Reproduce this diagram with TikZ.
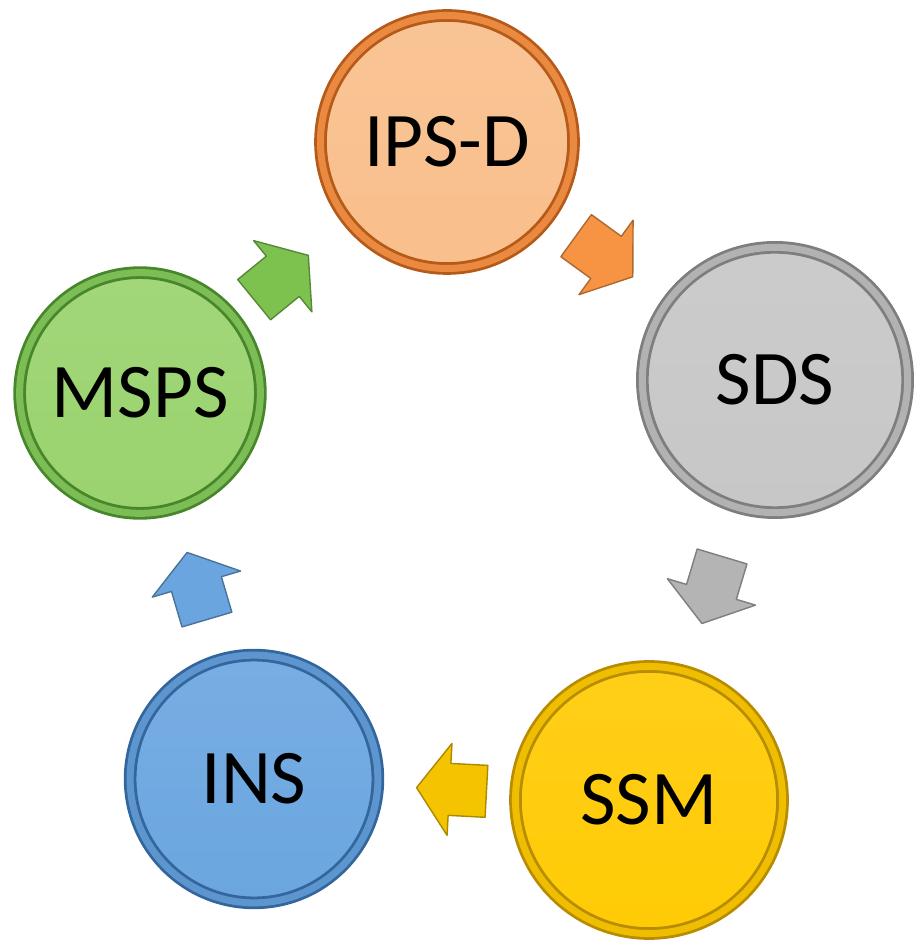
\documentclass[tikz,border=0pt]{standalone}
\usepackage{fontspec}
\setmainfont{Carlito}
\usetikzlibrary{calc}

\definecolor{ipsdfill}{HTML}{F9BF8C}
\definecolor{ipsdring}{HTML}{B65A1A}
\definecolor{ipsdlight}{HTML}{EA8A40}
\definecolor{sdsfill}{HTML}{C7C7C7}
\definecolor{sdsring}{HTML}{7E7E7E}
\definecolor{sdslight}{HTML}{B2B2B2}
\definecolor{ssmfill}{HTML}{FFCB05}
\definecolor{ssmring}{HTML}{B88C00}
\definecolor{ssmlight}{HTML}{EFBE00}
\definecolor{insfill}{HTML}{6BA6E0}
\definecolor{insring}{HTML}{33669C}
\definecolor{inslight}{HTML}{5D96CF}
\definecolor{mspsfill}{HTML}{9AD36E}
\definecolor{mspsring}{HTML}{47862A}
\definecolor{mspslight}{HTML}{7CBD55}

\definecolor{orangeA}{HTML}{F79443}
\definecolor{grayA}{HTML}{B4B4B4}
\definecolor{yellowA}{HTML}{F5C400}
\definecolor{blueA}{HTML}{6AA5DF}
\definecolor{greenA}{HTML}{7DC24F}

\tikzset{
  disc/.style 2 args={circle, inner sep=0pt, minimum size=#1,
    draw=#2ring, double=#2light, double distance=4pt, line width=1.6pt,
    top color=#2fill!92!white, bottom color=#2fill,
    font=\fontsize{44}{44}\selectfont},
  pics/blockarrow/.style={code={
    \filldraw[fill=#1, draw=#1!70!black, line width=0.8pt, line join=round]
      (-35,-26) -- (2,-26) -- (2,-46) -- (35,0) -- (2,46) -- (2,26) -- (-35,26) -- cycle;}},
}

% block arrow between two nodes: (from)(to){position}{colour}
\def\flowarrow(#1)(#2)#3#4{\path let \p1=($(#2)-(#1)$), \n1={atan2(\y1,\x1)} in
  ($(#1)!#3!(#2)$) pic[rotate=\n1] {blockarrow=#4};}

\begin{document}
\begin{tikzpicture}[x=0.02cm, y=0.02cm]
		\useasboundingbox (0, 0) rectangle (913, 942);
		
		%%%%% discs %%%%%
		\node[disc={144pt}{ipsd}] (ipsd) at (447, 800) {IPS-D};
		\node[disc={151pt}{sds}] (sds) at (775, 562) {SDS};
		\node[disc={152pt}{ssm}] (ssm) at (649, 142) {SSM};
		\node[disc={141pt}{ins}] (ins) at (254, 163) {INS};
		\node[disc={137pt}{msps}] (msps) at (140, 549) {MSPS};
		
		%%%%% arrows %%%%%
		\flowarrow(ipsd)(sds){0.48}{orangeA}
		\flowarrow(sds)(ssm){0.5}{grayA}
		\flowarrow(ssm)(ins){0.5}{yellowA}
		\flowarrow(ins)(msps){0.5}{blueA}
		\flowarrow(msps)(ipsd){0.46}{greenA}
		
	\end{tikzpicture}
\end{document}
